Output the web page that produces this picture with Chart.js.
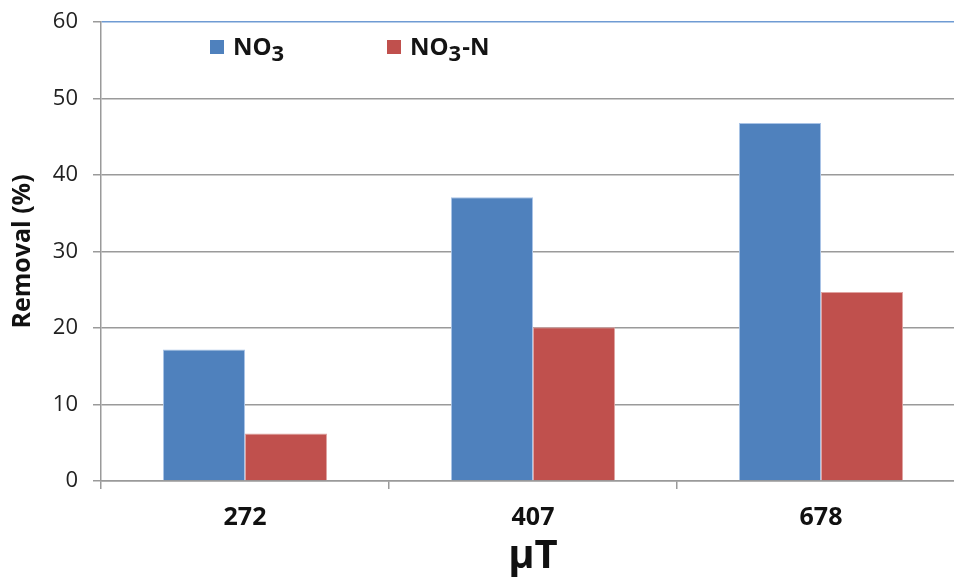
<!DOCTYPE html>
<html>
<head>
<meta charset="utf-8">
<script src="https://cdn.jsdelivr.net/npm/chart.js@4/dist/chart.umd.min.js"></script>
<style>
  html, body { margin: 0; padding: 0; overflow: hidden; background: #ffffff; }
  canvas { display: block; }
</style>
</head>
<body>
<canvas id="chart" width="966" height="581"></canvas>
<script>
// Magnetic field strength (µT) and nitrate removal percentages
const categories = ['272', '407', '678'];
const no3Removal = [17.2, 37.1, 46.8];
const no3nRemoval = [6.2, 20.1, 24.7];
const seriesNames = ['NO3', 'NO3-N'];
const seriesColors = ['#4f81bd', '#c0504d'];
const seriesEdges = ['#a9c3e6', '#e0a3a1'];
const yMin = 0, yMax = 60, yStep = 10;

const FONT = '"Open Sans", "DejaVu Sans", sans-serif';
const AXIS_GRAY = '#9a9a9a';

// Legend drawn inside the plot with subscripted digits (NO₃)
const subscriptLegend = {
  id: 'subscriptLegend',
  afterDraw(chart) {
    const ctx = chart.ctx;
    const slots = [210, 387];
    const baseY = 55;
    chart.data.datasets.forEach((ds, i) => {
      const x0 = slots[i];
      ctx.save();
      ctx.fillStyle = ds.backgroundColor;
      ctx.fillRect(x0, baseY - 15, 14, 14);
      let x = x0 + 23;
      ctx.fillStyle = '#141414';
      ctx.textBaseline = 'alphabetic';
      ds.label.split(/(\d)/).forEach(part => {
        if (!part) return;
        const sub = /^\d$/.test(part);
        ctx.font = `bold ${sub ? 22 : 24}px ${FONT}`;
        ctx.fillText(part, x, baseY + (sub ? 6 : 0));
        x += ctx.measureText(part).width + (sub ? 1 : 0);
      });
      ctx.restore();
    });
  }
};

new Chart(document.getElementById('chart'), {
  type: 'bar',
  data: {
    labels: categories,
    datasets: [
      {
        label: seriesNames[0],
        data: no3Removal,
        backgroundColor: seriesColors[0],
        borderColor: seriesEdges[0],
        borderWidth: 1
      },
      {
        label: seriesNames[1],
        data: no3nRemoval,
        backgroundColor: seriesColors[1],
        borderColor: seriesEdges[1],
        borderWidth: 1
      }
    ]
  },
  options: {
    responsive: false,
    animation: false,
    layout: { padding: { top: 22, right: 1, left: 0, bottom: 0 } },
    datasets: {
      bar: { categoryPercentage: 0.57, barPercentage: 1.0 }
    },
    plugins: {
      legend: { display: false },
      tooltip: { enabled: false }
    },
    scales: {
      x: {
        grid: {
          offset: true,
          drawOnChartArea: false,
          tickLength: 8,
          color: AXIS_GRAY,
          lineWidth: 1.5
        },
        border: { color: AXIS_GRAY, width: 1.5 },
        ticks: {
          padding: 14,
          color: '#111111',
          font: { family: FONT, size: 25, weight: 'bold' }
        },
        title: {
          display: true,
          text: 'µT',
          color: '#111111',
          font: { family: FONT, size: 40, weight: 'bold' },
          padding: { top: 0, bottom: 0 }
        },
        afterFit(scale) { scale.height = 100; }
      },
      y: {
        min: yMin,
        max: yMax,
        ticks: {
          stepSize: yStep,
          padding: 15,
          color: '#222222',
          font: { family: FONT, size: 22 }
        },
        grid: {
          color: ctx => (ctx.tick && ctx.tick.value === yMax) ? '#6f9bd3' : AXIS_GRAY,
          tickColor: AXIS_GRAY,
          lineWidth: 1.5,
          tickLength: 8
        },
        border: { color: AXIS_GRAY, width: 1.5 },
        title: {
          display: true,
          text: 'Removal (%)',
          color: '#111111',
          font: { family: FONT, size: 25, weight: 'bold' },
          padding: { top: 8, bottom: 0 }
        },
        afterFit(scale) {
          scale.width = 101;
          // keep the plot top fixed by the layout padding, not the label overflow
          scale.paddingTop = 0;
          scale.paddingBottom = 0;
        }
      }
    }
  },
  plugins: [subscriptLegend]
});
</script>
</body>
</html>
